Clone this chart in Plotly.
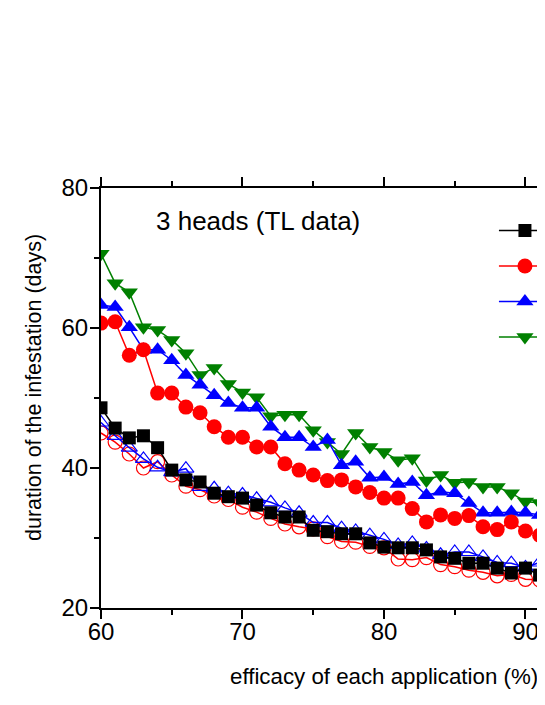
import plotly.graph_objects as go

efficacy = list(range(60, 92))

black_sq = [48.6, 45.7, 44.3, 44.6, 42.9, 39.7, 38.3, 38.0, 36.4, 35.9, 35.7, 34.7, 33.6, 33.0, 33.0, 31.1,
            30.9, 30.6, 30.6, 29.3, 28.7, 28.6, 28.6, 28.3, 27.3, 27.1, 26.4, 26.4, 25.7, 25.0, 25.7, 24.7]
red_circ = [60.7, 60.9, 56.1, 56.9, 50.7, 50.7, 48.7, 47.9, 45.9, 44.4, 44.4, 43.0, 43.0, 40.6, 39.7, 39.0,
            38.2, 38.3, 37.3, 36.5, 35.7, 35.7, 34.2, 32.3, 33.3, 32.8, 33.2, 31.6, 31.2, 32.3, 31.0, 30.4]
blue_tri = [63.3, 63.0, 60.1, 56.9, 56.9, 55.4, 53.3, 51.9, 50.4, 49.3, 48.6, 48.6, 45.9, 44.4, 44.4, 43.0,
            44.0, 40.4, 40.9, 38.6, 38.7, 37.7, 38.0, 36.1, 36.6, 36.4, 35.0, 33.6, 33.6, 33.7, 33.6, 33.3]
green_tri = [70.6, 66.4, 65.1, 60.1, 59.7, 58.3, 56.4, 53.3, 54.3, 52.0, 50.8, 50.1, 47.4, 47.6, 47.6, 45.4,
             43.7, 42.0, 45.0, 43.0, 42.3, 41.1, 41.4, 38.2, 39.0, 37.9, 38.0, 37.3, 37.3, 36.4, 35.2, 35.0]
red_open = [45.0, 43.7, 42.0, 40.0, 40.9, 39.0, 37.4, 36.9, 36.0, 35.5, 34.4, 33.7, 32.8, 32.0, 31.6, 31.3,
            30.2, 29.5, 29.4, 28.8, 28.6, 27.0, 26.9, 27.2, 26.2, 25.9, 25.4, 25.1, 24.6, 24.8, 24.1, 24.0]
blue_open = [46.5, 44.6, 42.9, 41.3, 40.1, 39.4, 39.9, 37.3, 37.1, 36.4, 36.2, 35.6, 35.1, 34.3, 33.6, 32.2,
             32.2, 31.4, 31.0, 30.4, 29.8, 29.0, 29.3, 28.5, 27.6, 28.0, 28.0, 27.3, 26.5, 26.4, 25.8, 26.5]

legend_names = ["1 application", "2 applications", "3 applications", "4 applications"]
annotation_text = "3 heads (TL data)"
x_title = "efficacy of each application (%)"
y_title = "duration of the infestation (days)"

FONT = "Arial, Liberation Sans, sans-serif"

fig = go.Figure()

def add(y, color, symbol, size, name=None, open_=False, show=True):
    fig.add_trace(go.Scatter(
        x=efficacy, y=y, mode="lines+markers", name=name, showlegend=show,
        line=dict(color=color, width=1.5),
        marker=dict(symbol=symbol, size=size, color=color,
                    line=dict(color=color, width=1.2 if open_ else 0)),
    ))

add(red_open, "#ff0000", "circle-open", 14, open_=True, show=False)
add(blue_open, "#0000ff", "triangle-up-open", 14, open_=True, show=False)
add(green_tri, "#008000", "triangle-down", 15, name=legend_names[3])
add(blue_tri, "#0000ff", "triangle-up", 15, name=legend_names[2])
add(red_circ, "#ff0000", "circle", 15, name=legend_names[1])
add(black_sq, "#000000", "square", 13, name=legend_names[0])

xr = [60, 91.38]
yr = [20, 80]

common_x = dict(range=xr, dtick=10, tick0=60, ticklen=9, tickwidth=2, tickcolor="black",
                minor=dict(dtick=5, ticklen=5, tickwidth=2, tickcolor="black"),
                showgrid=False, zeroline=False)
common_y = dict(range=yr, dtick=20, tick0=20, ticklen=9, tickwidth=2, tickcolor="black",
                minor=dict(dtick=10, ticklen=5, tickwidth=2, tickcolor="black"),
                showgrid=False, zeroline=False)

fig.update_layout(
    width=537, height=689,
    margin=dict(l=93, r=0, t=180, b=89, autoexpand=False),
    paper_bgcolor="white", plot_bgcolor="white",
    font=dict(family=FONT, color="black", size=24),
    xaxis=dict(**common_x, ticks="outside", showline=True, linewidth=2, linecolor="black",
               mirror="ticks", tickfont=dict(size=24), ticklabelstandoff=-8,
               minor_ticks="outside"),
    xaxis2=dict(**common_x, ticks="inside", overlaying="x", anchor="y", side="bottom",
                mirror="ticks", showticklabels=False, minor_ticks="inside", showline=False),
    yaxis=dict(**common_y, ticks="outside", showline=True, linewidth=2, linecolor="black",
               tickfont=dict(size=24), minor_ticks="outside", ticklabelstandoff=-3),
    yaxis2=dict(**common_y, ticks="inside", overlaying="y", anchor="x", side="left",
                showticklabels=False, minor_ticks="inside", showline=False),
    legend=dict(x=0.885, y=0.953, xanchor="left", yanchor="top", bgcolor="rgba(0,0,0,0)",
                font=dict(size=25), itemwidth=52, traceorder="reversed"),
    annotations=[
        dict(text=annotation_text, xref="paper", yref="paper", x=0.12, y=0.921,
             xanchor="left", yanchor="middle", showarrow=False, font=dict(size=26)),
        dict(text=x_title, xref="paper", yref="paper", x=0.638, y=-0.162,
             xanchor="center", yanchor="middle", showarrow=False, font=dict(size=22.3)),
        dict(text=y_title, xref="paper", yref="paper", x=-0.151, y=0.526, textangle=-90,
             xanchor="center", yanchor="middle", showarrow=False, font=dict(size=21.5)),
    ],
)

fig.write_html("out.html")
